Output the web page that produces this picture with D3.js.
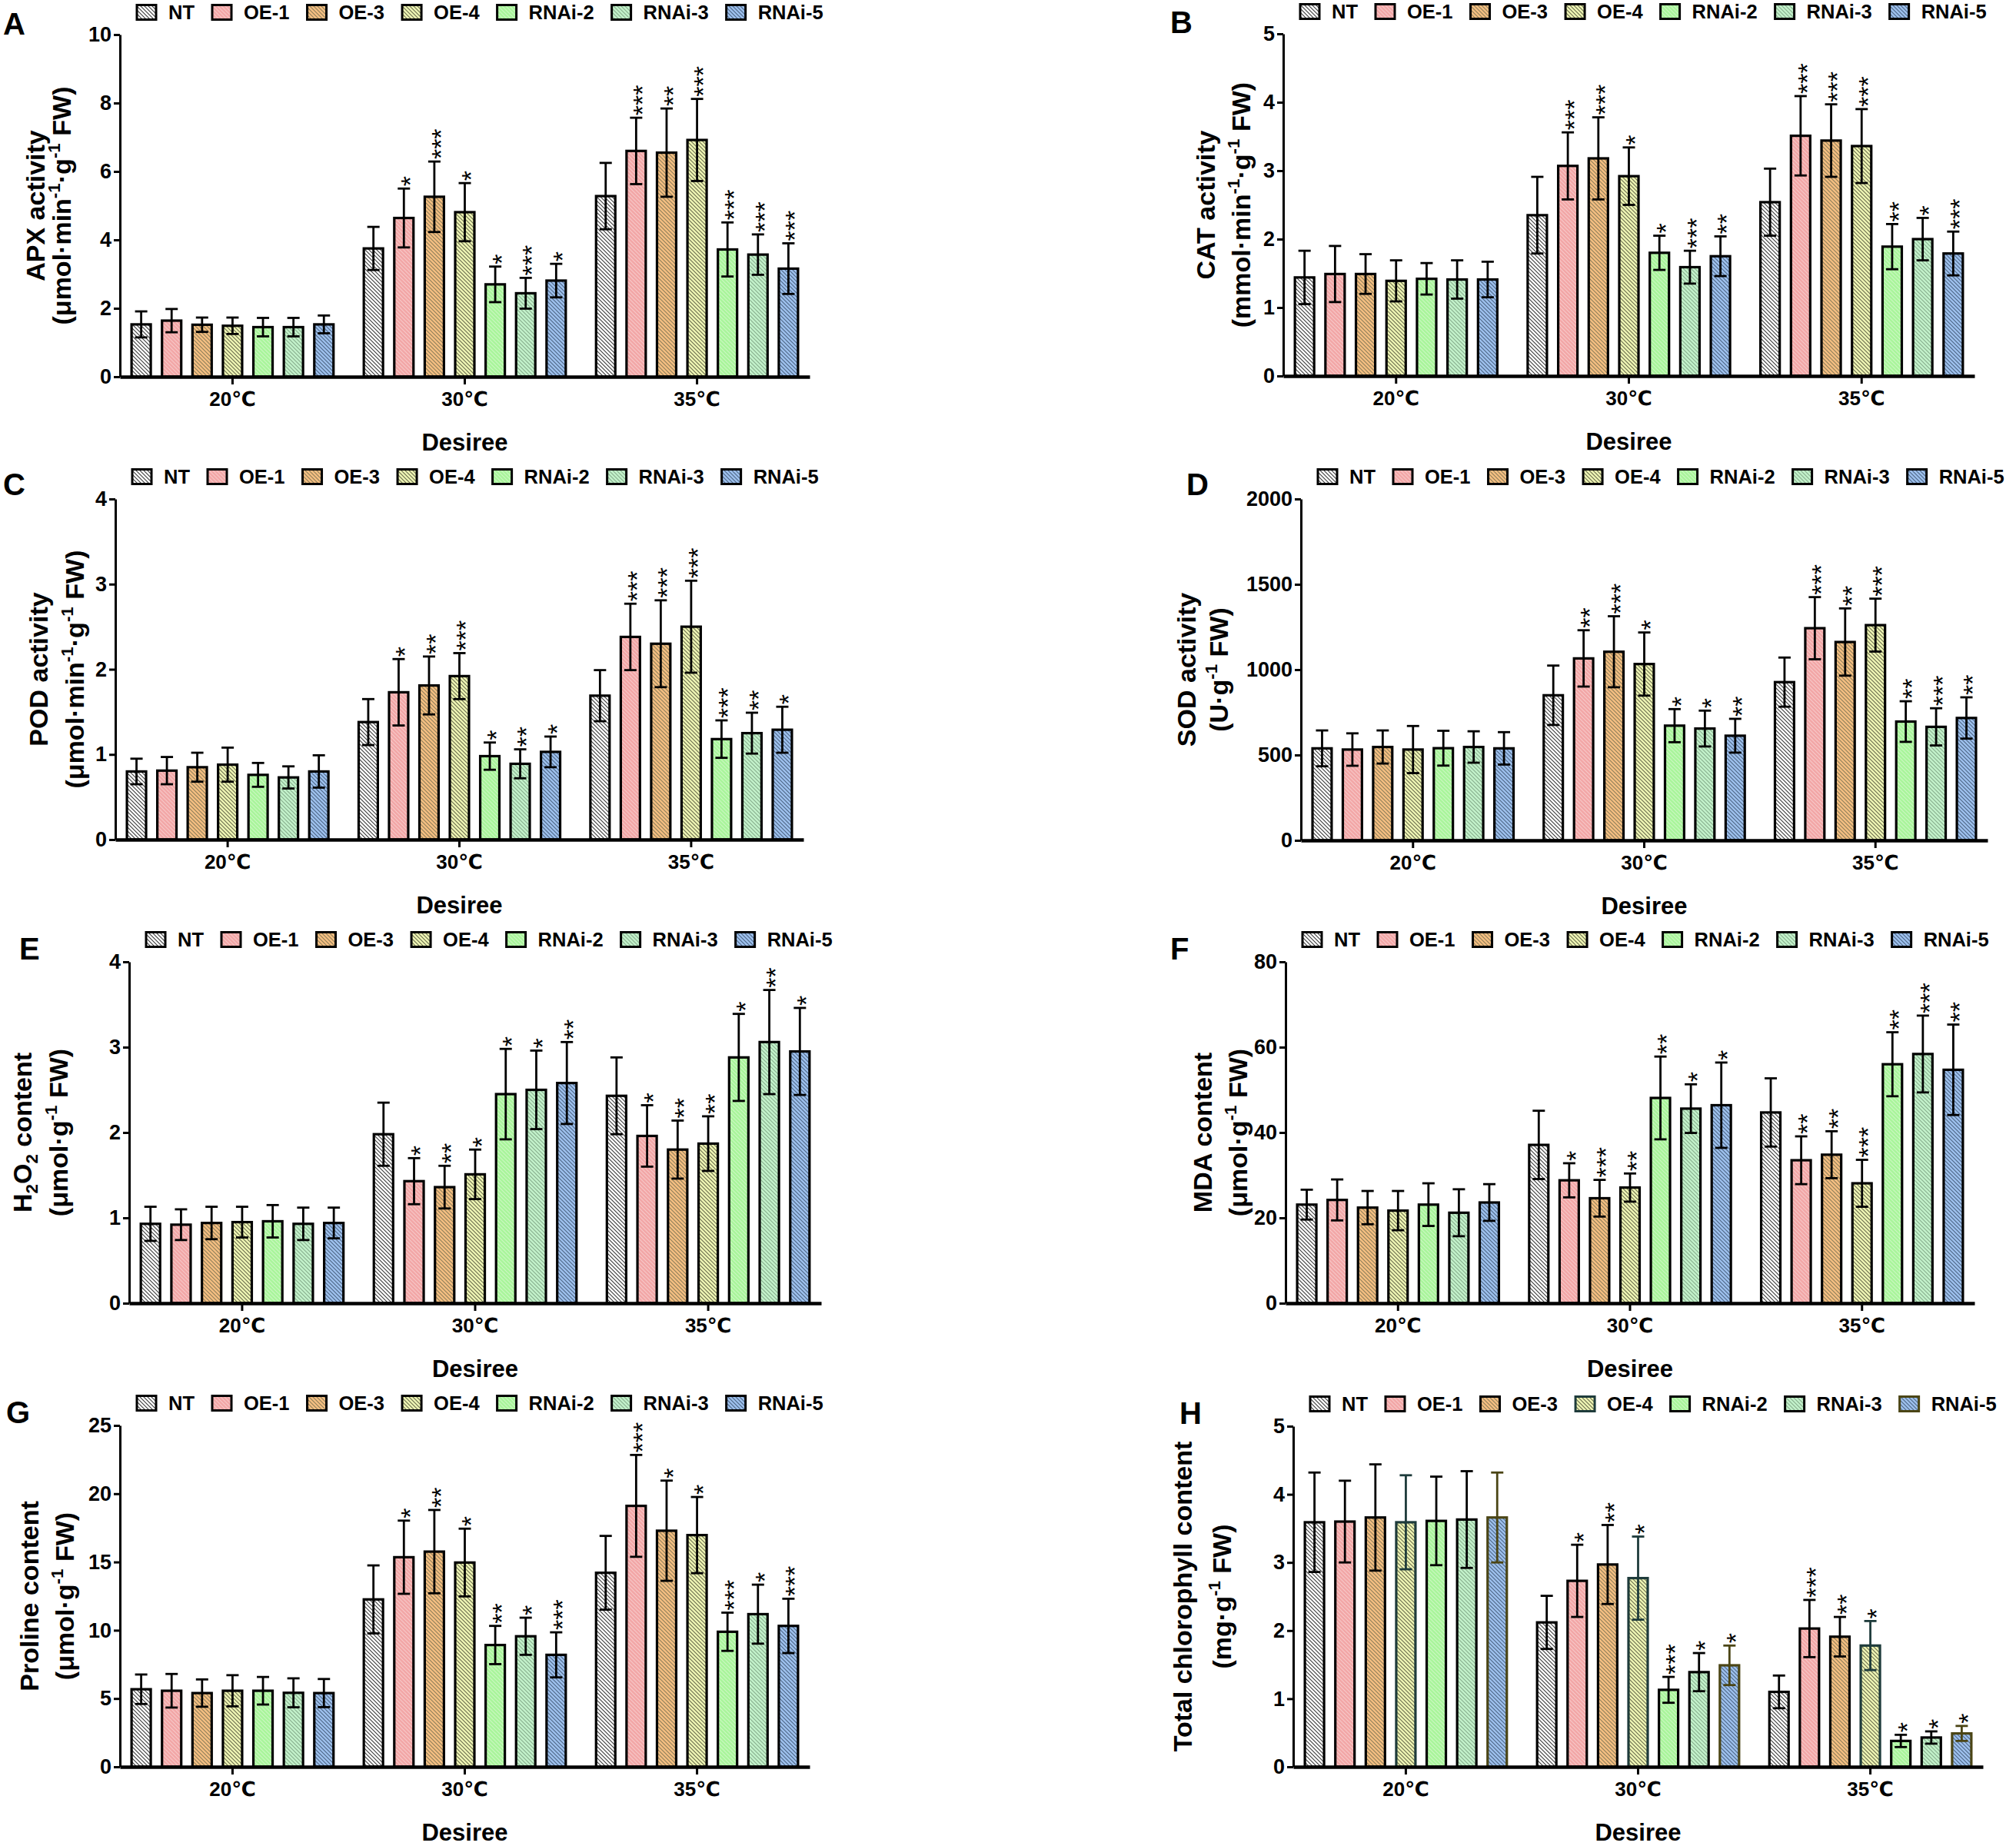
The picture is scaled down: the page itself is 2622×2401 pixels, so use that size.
<!DOCTYPE html>
<html>
<head>
<meta charset="utf-8">
<script src="https://cdn.jsdelivr.net/npm/d3@7"></script>
<style>
html,body{margin:0;padding:0;background:#fff;}
</style>
</head>
<body>
<script>
// ---------------- DATA ----------------
const categories = ["20℃", "30℃", "35℃"];
const seriesNames = ["NT", "OE-1", "OE-3", "OE-4", "RNAi-2", "RNAi-3", "RNAi-5"];
const none7 = ["", "", "", "", "", "", ""];

const apxMean = [[1.53,1.64,1.52,1.49,1.45,1.45,1.53],[3.75,4.64,5.26,4.81,2.70,2.44,2.81],[5.28,6.60,6.55,6.92,3.72,3.57,3.16]];
const apxErr  = [[0.38,0.34,0.21,0.24,0.27,0.27,0.26],[0.63,0.86,1.03,0.85,0.52,0.45,0.49],[0.97,0.97,1.29,1.20,0.79,0.59,0.74]];
const apxSig  = [none7,["","*","***","*","*","***","*"],["","***","**","***","***","***","***"]];

const catMean = [[1.44,1.49,1.49,1.39,1.42,1.41,1.41],[2.35,3.07,3.18,2.92,1.80,1.59,1.75],[2.54,3.51,3.44,3.36,1.89,2.00,1.79]];
const catErr  = [[0.39,0.41,0.29,0.30,0.23,0.28,0.26],[0.56,0.49,0.60,0.42,0.25,0.24,0.29],[0.49,0.58,0.53,0.54,0.33,0.31,0.32]];
const catSig  = [none7,["","***","***","*","*","***","**"],["","***","***","***","**","*","***"]];

const podMean = [[0.80,0.81,0.85,0.88,0.76,0.73,0.80],[1.38,1.73,1.81,1.92,0.98,0.89,1.03],[1.69,2.38,2.30,2.50,1.18,1.25,1.29]];
const podErr  = [[0.15,0.16,0.17,0.20,0.14,0.13,0.19],[0.27,0.39,0.34,0.27,0.16,0.17,0.18],[0.30,0.39,0.51,0.54,0.22,0.24,0.27]];
const podSig  = [none7,["","*","**","***","*","**","*"],["","***","***","***","***","**","*"]];

const sodMean = [[539,532,547,532,540,547,539],[850,1066,1105,1033,672,655,613],[927,1243,1162,1261,696,665,717]];
const sodErr  = [[105,95,97,138,102,92,95],[174,165,208,185,97,105,99],[144,182,197,155,119,109,121]];
const sodSig  = [none7,["","**","***","*","*","*","**"],["","***","**","***","**","***","**"]];

const h2o2Mean = [[0.93,0.92,0.94,0.95,0.96,0.93,0.94],[1.98,1.43,1.36,1.51,2.45,2.50,2.58],[2.43,1.96,1.80,1.87,2.88,3.06,2.95]];
const h2o2Err  = [[0.20,0.18,0.19,0.18,0.19,0.19,0.18],[0.37,0.27,0.25,0.29,0.53,0.46,0.48],[0.45,0.36,0.34,0.32,0.51,0.61,0.51]];
const h2o2Sig  = [none7,["","*","**","*","*","*","**"],["","*","**","**","*","**","*"]];

const mdaMean = [[23.1,24.2,22.4,21.7,23.1,21.2,23.6],[37.1,28.8,24.6,27.1,48.1,45.6,46.4],[44.7,33.5,34.8,28.1,56.0,58.4,54.7]];
const mdaErr  = [[3.5,4.8,3.9,4.6,5.0,5.5,4.3],[8.0,4.0,4.3,3.3,9.7,5.7,10.0],[8.0,5.6,5.5,5.5,7.5,9.0,10.6]];
const mdaSig  = [none7,["","*","***","**","**","*","*"],["","**","**","***","**","***","**"]];

const prolineMean = [[5.68,5.57,5.40,5.57,5.57,5.42,5.40],[12.26,15.35,15.76,14.96,8.92,9.56,8.20],[14.21,19.11,17.29,16.97,9.89,11.18,10.32]];
const prolineErr  = [[1.08,1.23,1.00,1.14,1.01,1.06,1.03],[2.49,2.68,3.05,2.48,1.40,1.36,1.65],[2.70,3.73,3.67,2.79,1.40,2.16,1.99]];
const prolineSig  = [none7,["","*","**","*","**","*","***"],["","***","*","*","***","*","***"]];

const chlMean = [[3.59,3.60,3.66,3.59,3.61,3.63,3.66],[2.12,2.73,2.97,2.77,1.13,1.39,1.49],[1.10,2.03,1.91,1.78,0.38,0.43,0.49]];
const chlErr  = [[0.73,0.60,0.78,0.69,0.65,0.71,0.66],[0.39,0.53,0.58,0.61,0.19,0.28,0.29],[0.24,0.42,0.29,0.36,0.09,0.09,0.11]];
const chlSig  = [none7,["","*","**","*","***","*","*"],["","***","**","*","*","*","*"]];

const apxTicks = [0,2,4,6,8,10];
const catTicks = [0,1,2,3,4,5];
const podTicks = [0,1,2,3,4];
const sodTicks = [0,500,1000,1500,2000];
const h2o2Ticks = [0,1,2,3,4];
const mdaTicks = [0,20,40,60,80];
const prolineTicks = [0,5,10,15,20,25];
const chlTicks = [0,1,2,3,4,5];

// ---------------- STYLE ----------------
const FONT = "'Liberation Sans', Arial, 'DejaVu Sans', 'Noto Sans CJK SC', sans-serif";
const fills  = ["#ffffff","#f2a6a6","#f5bf82","#eff6b5","#a8f59a","#c3f2cb","#9ec1ee"];
const hatchC = ["#3a3a3a","#f8c9c9","#8e7e58","#6a6c4c","#cdf8c3","#86ad8c","#4c6585"];

const W = 2622, H = 2401;
const svg = d3.select("body").append("svg")
  .attr("width", W).attr("height", H)
  .attr("viewBox", `0 0 ${W} ${H}`)
  .style("font-family", FONT);
svg.append("rect").attr("width", W).attr("height", H).attr("fill", "#fff");

const defs = svg.append("defs");
seriesNames.forEach((s, i) => {
  const p = defs.append("pattern").attr("id", "hatch" + i)
    .attr("patternUnits", "userSpaceOnUse").attr("width", 5).attr("height", 5);
  p.append("rect").attr("width", 5).attr("height", 5).attr("fill", fills[i]);
  p.append("path").attr("d", "M0,0 L5,5 M-1,4 L1,6 M4,-1 L6,1")
    .attr("stroke", hatchC[i]).attr("stroke-width", 1.1).attr("fill", "none");
});

const sup = t => ({t, sup: true});
const sub = t => ({t, sub: true});
const unitMin = [{t:"(μmol·min"}, sup("-1"), {t:"·g"}, sup("-1"), {t:" FW)"}];

const panels = [
  {letter:"A", lx:4, ly:45, x0:156, x1:1053, y0:45, y1:490, max:10, ticks:apxTicks,
   title1:[{t:"APX activity"}], title2:unitMin, t1:46, t2:80, mean:apxMean, err:apxErr, sig:apxSig},
  {letter:"B", lx:1522, ly:43, x0:1669, x1:2568, y0:44, y1:489, max:5, ticks:catTicks,
   title1:[{t:"CAT activity"}], title2:[{t:"(mmol·min"}, sup("-1"), {t:"·g"}, sup("-1"), {t:" FW)"}], t1:1568, t2:1614, mean:catMean, err:catErr, sig:catSig},
  {letter:"C", lx:4, ly:644, x0:150, x1:1045, y0:649, y1:1092, max:4, ticks:podTicks,
   title1:[{t:"POD activity"}], title2:unitMin, t1:50, t2:97, mean:podMean, err:podErr, sig:podSig},
  {letter:"D", lx:1543, ly:644, x0:1692, x1:2585, y0:649, y1:1093, max:2000, ticks:sodTicks,
   title1:[{t:"SOD activity"}], title2:[{t:"(U·g"}, sup("-1"), {t:" FW)"}], t1:1543, t2:1585, mean:sodMean, err:sodErr, sig:sodSig},
  {letter:"E", lx:25, ly:1248, x0:168, x1:1068, y0:1251, y1:1695, max:4, ticks:h2o2Ticks,
   title1:[{t:"H"}, sub("2"), {t:"O"}, sub("2"), {t:" content"}], title2:[{t:"(μmol·g"}, sup("-1"), {t:" FW)"}], t1:29, t2:76, mean:h2o2Mean, err:h2o2Err, sig:h2o2Sig},
  {letter:"F", lx:1522, ly:1248, x0:1672, x1:2568, y0:1251, y1:1695, max:80, ticks:mdaTicks,
   title1:[{t:"MDA content"}], title2:[{t:"(μmol·g"}, sup("-1"), {t:" FW)"}], t1:1564, t2:1610, mean:mdaMean, err:mdaErr, sig:mdaSig},
  {letter:"G", lx:8, ly:1851, x0:156, x1:1053, y0:1854, y1:2298, max:25, ticks:prolineTicks,
   title1:[{t:"Proline content"}], title2:[{t:"(μmol·g"}, sup("-1"), {t:" FW)"}], t1:38, t2:84, mean:prolineMean, err:prolineErr, sig:prolineSig},
  {letter:"H", lx:1534, ly:1852, x0:1682, x1:2579, y0:1855, y1:2298, max:5, ticks:chlTicks,
   title1:[{t:"Total chlorophyll content"}], title2:[{t:"(mg·g"}, sup("-1"), {t:" FW)"}], t1:1538, t2:1589, mean:chlMean, err:chlErr, sig:chlSig,
   strokeOverride:{3:"#1e3b3b", 6:"#4b4515"}}
];

function richText(sel, segs, fs) {
  const shiftSup = fs * 0.42, shiftSub = fs * 0.22;
  let cur = 0;
  segs.forEach(s => {
    const ts = sel.append("tspan").text(s.t);
    let target = 0;
    if (s.sup) { target = -shiftSup; ts.attr("font-size", fs * 0.66); }
    else if (s.sub) { target = shiftSub; ts.attr("font-size", fs * 0.66); }
    const dy = target - cur;
    if (dy !== 0) ts.attr("dy", dy);
    cur = target;
  });
}

panels.forEach(P => {
  const g = svg.append("g");
  const strokeOf = i => (P.strokeOverride && P.strokeOverride[i]) || "#000";

  const gx = d3.scaleBand().domain(categories).range([P.x0, P.x1])
    .paddingInner(0.1305).paddingOuter(0.05);
  const bx = d3.scaleBand().domain(seriesNames).range([0, gx.bandwidth()])
    .paddingInner(0.369).paddingOuter(0);
  const y = d3.scaleLinear().domain([0, P.max]).range([P.y1, P.y0]);

  // bars
  categories.forEach((c, ci) => {
    seriesNames.forEach((s, si) => {
      const v = P.mean[ci][si], e = P.err[ci][si];
      const x = gx(c) + bx(s), w = bx.bandwidth(), xc = x + w / 2;
      g.append("rect").attr("x", x).attr("y", y(v)).attr("width", w).attr("height", y(0) - y(v))
        .attr("fill", `url(#hatch${si})`).attr("stroke", strokeOf(si)).attr("stroke-width", 3.2);
      const eg = g.append("g").attr("stroke", strokeOf(si)).attr("stroke-width", 2.8);
      eg.append("line").attr("x1", xc).attr("x2", xc).attr("y1", y(v - e)).attr("y2", y(v + e));
      eg.append("line").attr("x1", xc - 8).attr("x2", xc + 8).attr("y1", y(v + e)).attr("y2", y(v + e));
      eg.append("line").attr("x1", xc - 8).attr("x2", xc + 8).attr("y1", y(v - e)).attr("y2", y(v - e));
      const sg = P.sig[ci][si];
      if (sg) {
        g.append("text")
          .attr("transform", `translate(${xc},${y(v + e) - 3}) rotate(-90)`)
          .attr("dy", "0.58em").attr("font-size", 34).attr("fill", "#000")
          .attr("text-anchor", "start").text(sg);
      }
    });
  });

  // y axis
  const ya = g.append("g").attr("transform", `translate(${P.x0},0)`)
    .call(d3.axisLeft(y).tickValues(P.ticks).tickFormat(d3.format("d")).tickSize(8).tickPadding(3).tickSizeOuter(0));
  ya.select(".domain").attr("stroke", "#000").attr("stroke-width", 3);
  ya.selectAll(".tick line").attr("stroke", "#000").attr("stroke-width", 3);
  ya.selectAll(".tick text").attr("font-size", 27).attr("font-weight", "bold").attr("font-family", FONT).attr("fill", "#000");

  // x axis
  const xa = g.append("g").attr("transform", `translate(0,${P.y1})`)
    .call(d3.axisBottom(gx).tickSize(10).tickPadding(10).tickSizeOuter(0));
  xa.select(".domain").attr("stroke", "#000").attr("stroke-width", 4.5);
  xa.selectAll(".tick line").attr("stroke", "#000").attr("stroke-width", 3);
  xa.selectAll(".tick text").attr("font-size", 26).attr("font-weight", "bold").attr("font-family", FONT).attr("fill", "#000");

  // x title
  g.append("text").attr("x", (P.x0 + P.x1) / 2).attr("y", P.y1 + 96)
    .attr("text-anchor", "middle").attr("font-size", 31).attr("font-weight", "bold").text("Desiree");

  // y titles
  const ym = (P.y0 + P.y1) / 2;
  [[P.title1, P.t1], [P.title2, P.t2]].forEach(([segs, cx]) => {
    const t = g.append("text").attr("transform", `translate(${cx},${ym}) rotate(-90)`)
      .attr("text-anchor", "middle").attr("font-size", 34).attr("font-weight", "bold");
    const inner = t.append("tspan").attr("dy", "0.36em");
    richText(inner, segs, 34);
  });

  // panel letter
  g.append("text").attr("x", P.lx).attr("y", P.ly).attr("font-size", 40).attr("font-weight", "bold").text(P.letter);

  // legend
  const lg = g.append("g");
  let lxp = P.x0 + 22;
  const lyc = P.y0 - 29;
  seriesNames.forEach((s, si) => {
    lg.append("rect").attr("x", lxp).attr("y", lyc - 9.5).attr("width", 25).attr("height", 19)
      .attr("fill", `url(#hatch${si})`).attr("stroke", strokeOf(si)).attr("stroke-width", 3);
    const t = lg.append("text").attr("x", lxp + 25 + 16).attr("y", lyc + 9)
      .attr("font-size", 25.5).attr("font-weight", "bold").text(s);
    const tw = t.node().getComputedTextLength();
    lxp += 25 + 16 + tw + 23;
  });
});
</script>
</body>
</html>
